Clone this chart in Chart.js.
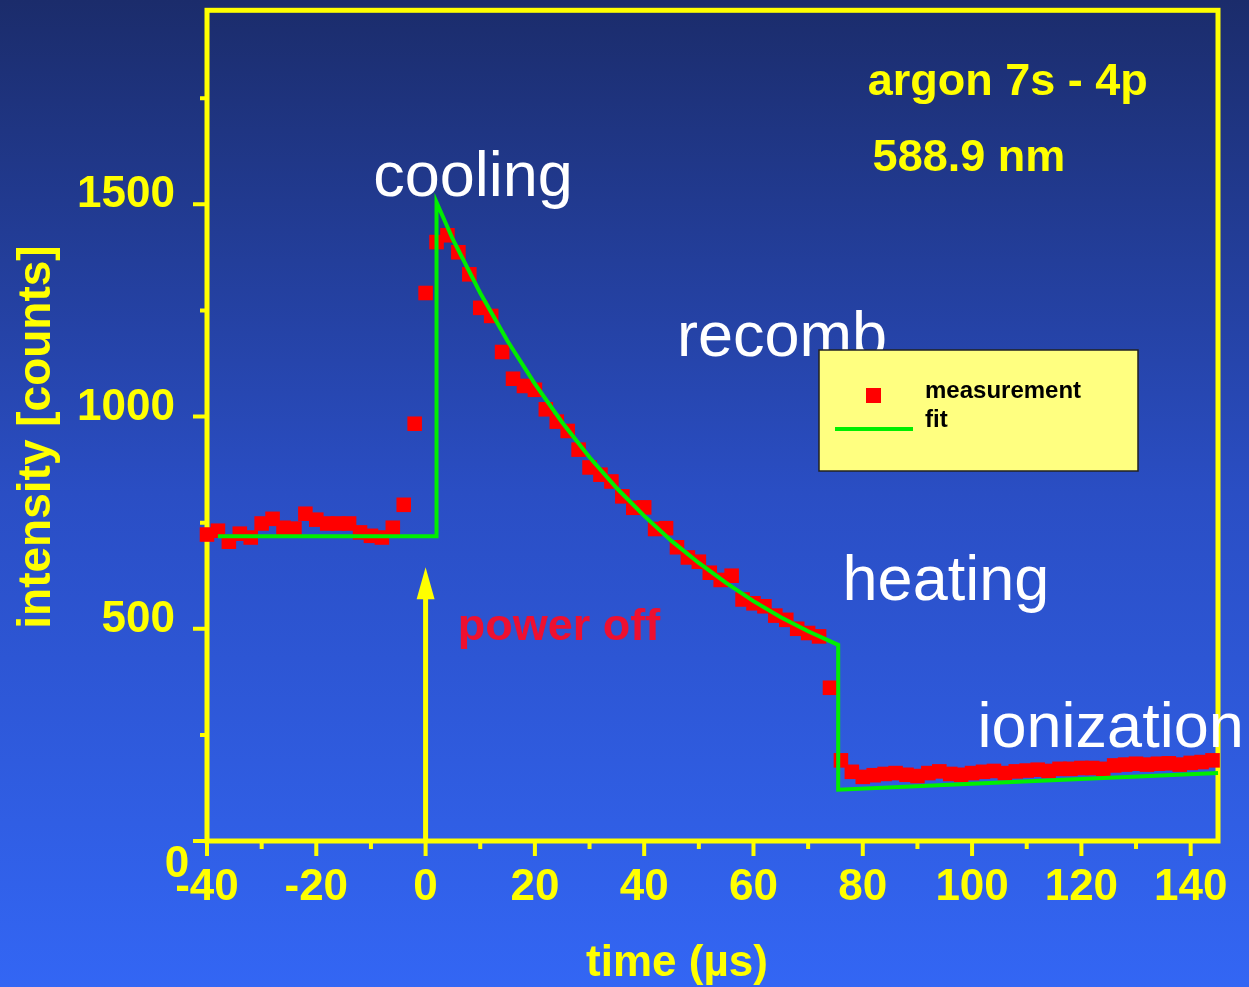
<!DOCTYPE html>
<html>
<head>
<meta charset="utf-8">
<script src="https://cdn.jsdelivr.net/npm/chart.js@4.4.1/dist/chart.umd.min.js"></script>
<style>
  html, body { margin: 0; padding: 0; }
  body {
    width: 1249px; height: 987px; overflow: hidden;
    background: linear-gradient(to bottom, #1b2c6b 0%, #2a4ec4 50%, #3366f4 100%);
  }
  canvas { display: block; }
</style>
</head>
<body>
<canvas id="chart" width="1249" height="987"></canvas>
<script>
const measTime = [-40, -38, -36, -34, -32, -30, -28, -26, -24, -22, -20, -18, -16, -14, -12, -10, -8, -6, -4, -2,
  0, 2, 4, 6, 8, 10, 12, 14, 16, 18, 20, 22, 24, 26, 28, 30, 32, 34, 36, 38,
  40, 42, 44, 46, 48, 50, 52, 54, 56, 58, 60, 62, 64, 66, 68, 70, 72, 74, 76, 78,
  80, 82, 84, 86, 88, 90, 92, 94, 96, 98, 100, 102, 104, 106, 108, 110, 112, 114, 116, 118,
  120, 122, 124, 126, 128, 130, 132, 134, 136, 138, 140, 142, 144];
const measCounts = [722, 731, 705, 724, 715, 748, 759, 738, 736, 771, 757, 748, 748, 748, 727, 719, 715, 738, 792, 983,
  1291, 1411, 1427, 1387, 1335, 1256, 1237, 1152, 1089, 1072, 1063, 1017, 988, 966, 922, 880, 863, 847, 812, 785,
  786, 735, 737, 692, 668, 658, 632, 615, 625, 569, 560, 553, 531, 521, 500, 490, 482, 361, 190, 163,
  151, 155, 158, 160, 156, 153, 160, 164, 158, 156, 160, 163, 165, 160, 164, 166, 168, 165, 170, 170,
  172, 172, 170, 178, 180, 182, 180, 182, 183, 180, 184, 186, 190];

// fit curve (green line)
const fitTime = [-38, 2, 2, 5, 10, 15, 20, 25, 30, 35, 40, 45, 50, 55, 60, 65, 70, 75.5, 75.5, 100, 145];
const fitCounts = [718, 718, 1505, 1417, 1291, 1178, 1077, 986, 904, 831, 766, 707, 655, 608, 565, 527, 494, 462, 121, 135, 160];

const xMajorTicks = [-40, -20, 0, 20, 40, 60, 80, 100, 120, 140];
const xMinorTicks = [-30, -10, 10, 30, 50, 70, 90, 110, 130];
const yMajorTicks = [0, 500, 1000, 1500];
const yMinorTicks = [250, 750, 1250, 1750];

// "power off" arrow, in data units
const arrowTime = 0;
const arrowFrom = 0;
const arrowTo = 645;

const FONT = "'Liberation Sans', Arial, Helvetica, sans-serif";
const YELLOW = '#ffff00';

// text notes placed in data coordinates (left edge, baseline)
const notes = [
  { text: 'argon 7s - 4p', t: 80.9, v: 1758, font: 'bold 45px ' + FONT, color: YELLOW },
  { text: '588.9 nm', t: 81.8, v: 1578, font: 'bold 45px ' + FONT, color: YELLOW },
  { text: 'cooling', t: -9.6, v: 1519, font: '63px ' + FONT, color: '#ffffff' },
  { text: 'recomb', t: 46.0, v: 1143, font: '63px ' + FONT, color: '#ffffff' },
  { text: 'heating', t: 76.3, v: 567, font: '63px ' + FONT, color: '#ffffff' },
  { text: 'ionization', t: 101.0, v: 221, font: '63px ' + FONT, color: '#ffffff' },
  { text: 'power off', t: 5.9, v: 473, font: 'bold 45px ' + FONT, color: '#ee1030' }
];

const decor = {
  id: 'decor',
  beforeDatasetsDraw(chart) {
    const { ctx, chartArea: a, scales: { x, y } } = chart;
    ctx.save();
    ctx.strokeStyle = YELLOW;
    ctx.lineWidth = 5;
    ctx.strokeRect(a.left, a.top, a.right - a.left, a.bottom - a.top);

    ctx.lineWidth = 4;
    ctx.beginPath();
    xMajorTicks.forEach(v => { const p = x.getPixelForValue(v); ctx.moveTo(p, a.bottom); ctx.lineTo(p, a.bottom + 15); });
    xMinorTicks.forEach(v => { const p = x.getPixelForValue(v); ctx.moveTo(p, a.bottom); ctx.lineTo(p, a.bottom + 8); });
    yMajorTicks.forEach(v => { const p = y.getPixelForValue(v); ctx.moveTo(a.left, p); ctx.lineTo(a.left - 14, p); });
    yMinorTicks.forEach(v => { const p = y.getPixelForValue(v); ctx.moveTo(a.left, p); ctx.lineTo(a.left - 7, p); });
    ctx.stroke();

    // arrow
    const ax = x.getPixelForValue(arrowTime);
    const y0 = y.getPixelForValue(arrowFrom);
    const y1 = y.getPixelForValue(arrowTo);
    ctx.lineWidth = 5;
    ctx.beginPath();
    ctx.moveTo(ax, y0);
    ctx.lineTo(ax, y1 + 25);
    ctx.stroke();
    ctx.fillStyle = YELLOW;
    ctx.beginPath();
    ctx.moveTo(ax, y1);
    ctx.lineTo(ax - 9, y1 + 32);
    ctx.lineTo(ax + 9, y1 + 32);
    ctx.closePath();
    ctx.fill();

    // y tick labels; the lone "0" sits low and left
    ctx.font = 'bold 44px ' + FONT;
    ctx.textAlign = 'right';
    ctx.textBaseline = 'middle';
    yMajorTicks.forEach(v => {
      if (v !== 0) ctx.fillText(String(v), a.left - 32, y.getPixelForValue(v) - 9);
    });
    ctx.textAlign = 'center';
    ctx.textBaseline = 'alphabetic';
    ctx.fillText('0', a.left - 30, y.getPixelForValue(0) + 36);

    // axis titles
    ctx.fillText('time (µs)', 677, 976);
    ctx.save();
    ctx.translate(50, 437);
    ctx.rotate(-Math.PI / 2);
    ctx.font = 'bold 46px ' + FONT;
    ctx.fillText('intensity [counts]', 0, 0);
    ctx.restore();
    ctx.restore();
  },
  afterDatasetsDraw(chart) {
    const { ctx, scales: { x, y } } = chart;
    ctx.save();
    ctx.textAlign = 'left';
    ctx.textBaseline = 'alphabetic';
    notes.forEach(n => {
      ctx.font = n.font;
      ctx.fillStyle = n.color;
      ctx.fillText(n.text, x.getPixelForValue(n.t), y.getPixelForValue(n.v));
    });

    // legend box
    const fit = chart.data.datasets[0];
    const meas = chart.data.datasets[1];
    ctx.fillStyle = '#ffff80';
    ctx.fillRect(819, 350, 319, 121);
    ctx.strokeStyle = '#222222';
    ctx.lineWidth = 1.5;
    ctx.strokeRect(819, 350, 319, 121);
    ctx.fillStyle = meas.backgroundColor;
    ctx.fillRect(866, 388, 15, 15);
    ctx.strokeStyle = fit.borderColor;
    ctx.lineWidth = 4;
    ctx.beginPath();
    ctx.moveTo(835, 429);
    ctx.lineTo(913, 429);
    ctx.stroke();
    ctx.fillStyle = '#000000';
    ctx.font = 'bold 24px ' + FONT;
    ctx.fillText(meas.label, 925, 398);
    ctx.fillText(fit.label, 925, 427);
    ctx.restore();
  }
};

const ctx = document.getElementById('chart').getContext('2d');

const chart = new Chart(ctx, {
  type: 'scatter',
  data: {
    datasets: [{
      label: 'fit',
      data: fitTime.map((t, i) => ({ x: t, y: fitCounts[i] })),
      showLine: true,
      borderColor: '#00ee00',
      borderWidth: 4,
      pointRadius: 0,
      tension: 0,
      clip: false
    }, {
      label: 'measurement',
      data: measTime.map((t, i) => ({ x: t, y: measCounts[i] })),
      showLine: false,
      pointStyle: 'rect',
      pointRadius: 10.3,
      pointBorderWidth: 0,
      backgroundColor: '#ff0000',
      borderColor: '#ff0000',
      clip: false
    }]
  },
  options: {
    responsive: false,
    animation: false,
    layout: { padding: { top: 8, right: 31, left: 0, bottom: 0 } },
    plugins: {
      legend: { display: false },
      tooltip: { enabled: false }
    },
    scales: {
      x: {
        type: 'linear',
        min: -40,
        max: 145,
        grid: { display: false, drawTicks: false },
        border: { display: false },
        ticks: {
          stepSize: 10,
          includeBounds: false,
          autoSkip: false,
          maxRotation: 0,
          padding: 20,
          color: YELLOW,
          font: { family: FONT, size: 44, weight: 'bold' },
          callback: v => (v % 20 === 0 ? String(v) : '')
        },
        afterFit: s => { s.height = 146; }
      },
      y: {
        min: 0,
        max: 1957,
        grid: { display: false, drawTicks: false },
        border: { display: false },
        ticks: { display: false, stepSize: 250 },
        afterFit: s => { s.width = 207; }
      }
    }
  },
  plugins: [decor]
});
</script>
</body>
</html>
